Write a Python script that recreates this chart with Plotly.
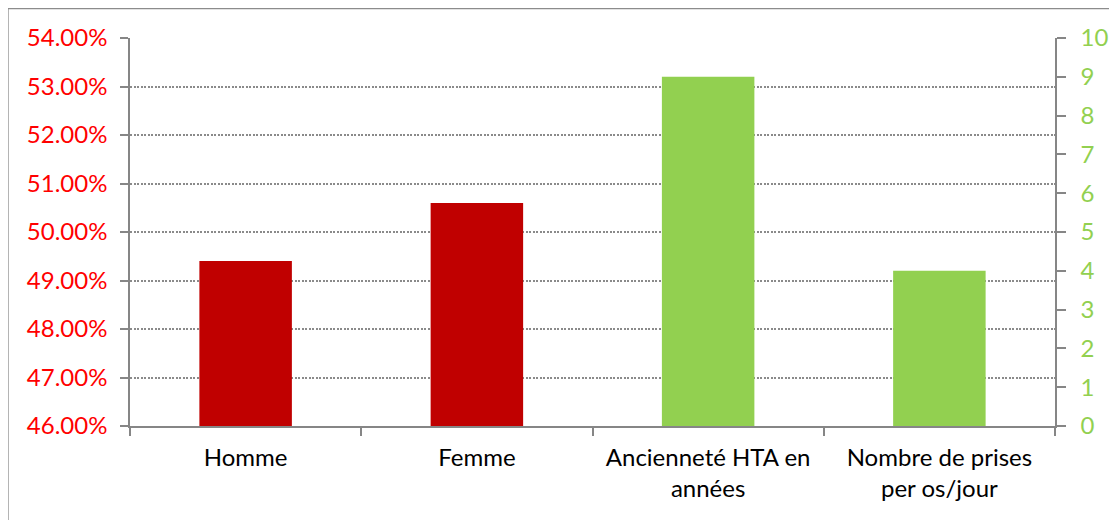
import plotly.graph_objects as go

categories = ["Homme", "Femme", "Ancienneté HTA en années", "Nombre de prises per os/jour"]
tick_labels = ["Homme", "Femme", "Ancienneté HTA en<br>années", "Nombre de prises<br>per os/jour"]

pct_categories = ["Homme", "Femme"]
pct_values = [0.494, 0.506]

num_categories = ["Ancienneté HTA en années", "Nombre de prises per os/jour"]
num_values = [9, 4]

left_ticks = [0.46, 0.47, 0.48, 0.49, 0.50, 0.51, 0.52, 0.53, 0.54]
right_ticks = list(range(0, 11))

FONT = "Lato"
FS = 24
GRAY = "#868686"

fig = go.Figure()
fig.add_trace(go.Bar(x=pct_categories, y=pct_values, marker=dict(color="#C00000", line=dict(width=0)),
                     width=0.4, yaxis="y", hoverinfo="skip", showlegend=False))
fig.add_trace(go.Bar(x=num_categories, y=num_values, marker=dict(color="#92D050", line=dict(width=0)),
                     width=0.4, yaxis="y2", hoverinfo="skip", showlegend=False))

fig.update_layout(
    width=1117, height=520,
    margin=dict(l=122, r=70, t=30, b=102, autoexpand=False),
    paper_bgcolor="white", plot_bgcolor="white",
    barmode="overlay",
    font=dict(family=FONT, size=FS, color="black"),
    xaxis=dict(
        type="category", categoryorder="array", categoryarray=categories,
        tickmode="array", tickvals=categories, ticktext=tick_labels,
        tickson="boundaries", ticks="outside", ticklen=8, tickcolor=GRAY, tickwidth=1.5,
        showline=True, linecolor=GRAY, linewidth=1.5, showgrid=False,
        tickfont=dict(family=FONT, size=FS, color="black"),
        ticklabelstandoff=9,
        range=[-0.5, 3.5], automargin=False,
    ),
    yaxis=dict(
        range=[0.46, 0.54], tickmode="array", tickvals=left_ticks, tickformat=".2%",
        ticks="outside", ticklen=8, tickcolor=GRAY, tickwidth=1.5,
        showline=True, linecolor=GRAY, linewidth=1.5,
        showgrid=True, gridcolor="#8A8A8A", griddash="2px,1.5px", gridwidth=1.5,
        tickfont=dict(family=FONT, size=FS, color="#FF0000"), zeroline=False,
        ticklabelstandoff=8, automargin=False,
    ),
    yaxis2=dict(
        range=[0, 10], overlaying="y", side="right", tickmode="array", tickvals=right_ticks,
        ticks="outside", ticklen=9, tickcolor=GRAY, tickwidth=1.5,
        showline=True, linecolor=GRAY, linewidth=1.5, showgrid=False, zeroline=False,
        tickfont=dict(family=FONT, size=FS, color="#92D050"),
        ticklabelstandoff=10, automargin=False,
    ),
    shapes=[dict(type="rect", xref="paper", yref="paper", x0=-0.132, x1=1.2, y0=-0.4, y1=1.076,
                 line=dict(color="#8C8C8C", width=1.5), fillcolor="rgba(0,0,0,0)", layer="below")],
)

fig.write_html("out.html")
